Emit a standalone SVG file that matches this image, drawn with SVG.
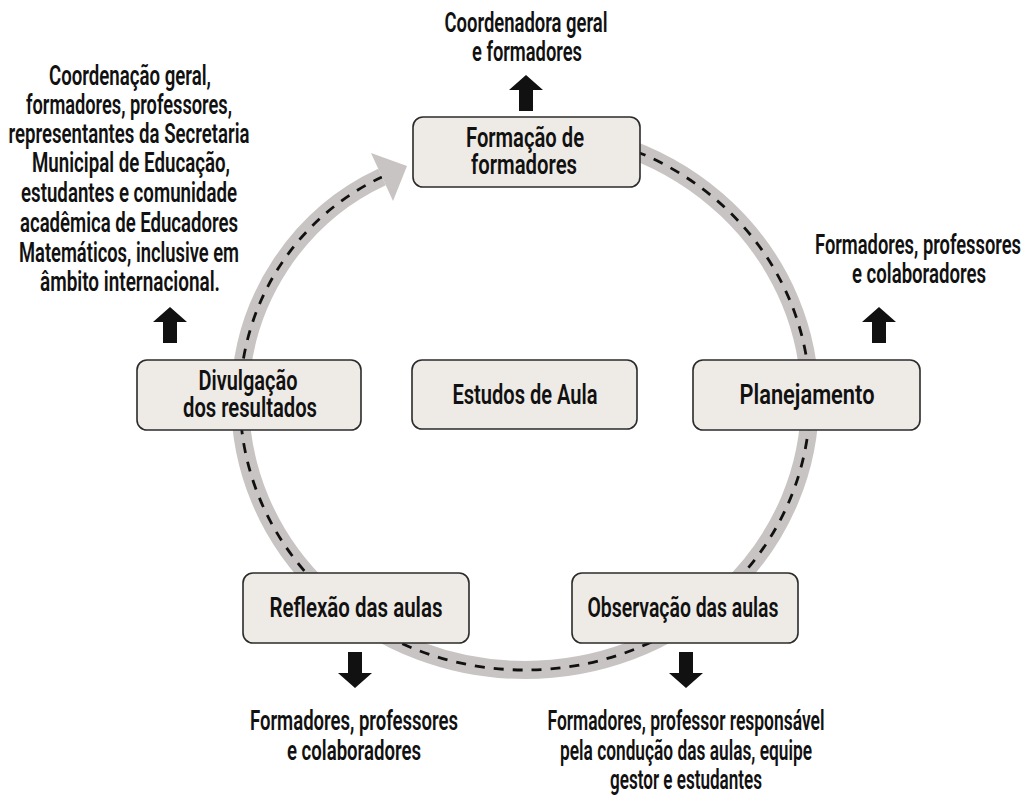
<svg xmlns="http://www.w3.org/2000/svg" width="1027" height="796" viewBox="0 0 1027 796">
<style>
.t{font-family:Roboto,"Liberation Sans",sans-serif;font-size:27px;font-weight:600;fill:#111;text-anchor:middle}
.box{fill:#eeeae5;stroke:#2b2b2b;stroke-width:1.6}
.ring{fill:none;stroke:#c9c4c4;stroke-width:18}
.dash{fill:none;stroke:#111;stroke-width:2.8;stroke-dasharray:10 9}
.arr{fill:#111}
</style>
<defs>
<path id="up" d="M0,0 L17,15 L7,15 L7,36 L-7,36 L-7,15 L-17,15 Z"/>
</defs>
<rect width="1027" height="796" fill="#fff"/>
<g id="connectors">
<path class="ring" d="M525,130 A285 270 0 0 1 525 670 A285 270 0 0 1 240 400 C240,300 300,215 382,177"/>
<path class="dash" d="M525,130 A285 270 0 0 1 525 670 A285 270 0 0 1 240 400 C240,300 300,215 382,177"/>
<polygon points="371,153 393,201 407,166" fill="#c9c4c4"/>
<use href="#up" class="arr" x="526" y="75"/>
<use href="#up" class="arr" x="170" y="307"/>
<use href="#up" class="arr" x="879" y="307"/>
<use href="#up" class="arr" transform="translate(355,688) scale(1,-1)"/>
<use href="#up" class="arr" transform="translate(686,688) scale(1,-1)"/>
</g>
<g id="formacao">
<rect class="box" x="413" y="117" width="227" height="70" rx="10"/>
<text class="t" x="525" y="147" textLength="118" lengthAdjust="spacingAndGlyphs">Formação de</text>
<text class="t" x="524" y="174" textLength="106" lengthAdjust="spacingAndGlyphs">formadores</text>
</g>
<g id="divulgacao">
<rect class="box" x="137" y="360" width="224" height="70" rx="10"/>
<text class="t" x="248" y="390" textLength="99" lengthAdjust="spacingAndGlyphs">Divulgação</text>
<text class="t" x="250" y="417" textLength="134" lengthAdjust="spacingAndGlyphs">dos resultados</text>
</g>
<g id="estudos">
<rect class="box" x="412" y="360" width="225" height="69" rx="10"/>
<text class="t" x="525" y="404" textLength="145" lengthAdjust="spacingAndGlyphs">Estudos de Aula</text>
</g>
<g id="planejamento">
<rect class="box" x="693" y="360" width="227" height="70" rx="10"/>
<text class="t" x="807" y="404" textLength="135" lengthAdjust="spacingAndGlyphs">Planejamento</text>
</g>
<g id="reflexao">
<rect class="box" x="243" y="573" width="226" height="70" rx="10"/>
<text class="t" x="356" y="617" textLength="173" lengthAdjust="spacingAndGlyphs">Reflexão das aulas</text>
</g>
<g id="observacao">
<rect class="box" x="572" y="573" width="226" height="70" rx="10"/>
<text class="t" x="683" y="617" textLength="191" lengthAdjust="spacingAndGlyphs">Observação das aulas</text>
</g>
<g id="label-top">
<text class="t" x="526" y="32" textLength="163" lengthAdjust="spacingAndGlyphs">Coordenadora geral</text>
<text class="t" x="527" y="61" textLength="110" lengthAdjust="spacingAndGlyphs">e formadores</text>
</g>
<g id="label-left">
<text class="t" x="130" y="85" textLength="162" lengthAdjust="spacingAndGlyphs">Coordenação geral,</text>
<text class="t" x="129" y="114" textLength="206" lengthAdjust="spacingAndGlyphs">formadores, professores,</text>
<text class="t" x="129" y="143" textLength="241" lengthAdjust="spacingAndGlyphs">representantes da Secretaria</text>
<text class="t" x="131" y="172" textLength="198" lengthAdjust="spacingAndGlyphs">Municipal de Educação,</text>
<text class="t" x="129" y="202" textLength="216" lengthAdjust="spacingAndGlyphs">estudantes e comunidade</text>
<text class="t" x="129" y="232" textLength="218" lengthAdjust="spacingAndGlyphs">acadêmica de Educadores</text>
<text class="t" x="129" y="262" textLength="220" lengthAdjust="spacingAndGlyphs">Matemáticos, inclusive em</text>
<text class="t" x="130" y="291" textLength="180" lengthAdjust="spacingAndGlyphs">âmbito internacional.</text>
</g>
<g id="label-right">
<text class="t" x="918" y="254" textLength="206" lengthAdjust="spacingAndGlyphs">Formadores, professores</text>
<text class="t" x="919" y="283" textLength="134" lengthAdjust="spacingAndGlyphs">e colaboradores</text>
</g>
<g id="label-bottom-left">
<text class="t" x="354" y="730" textLength="208" lengthAdjust="spacingAndGlyphs">Formadores, professores</text>
<text class="t" x="354" y="760" textLength="134" lengthAdjust="spacingAndGlyphs">e colaboradores</text>
</g>
<g id="label-bottom-right">
<text class="t" x="686" y="730" textLength="277" lengthAdjust="spacingAndGlyphs">Formadores, professor responsável</text>
<text class="t" x="686" y="760" textLength="252" lengthAdjust="spacingAndGlyphs">pela condução das aulas, equipe</text>
<text class="t" x="686" y="789" textLength="152" lengthAdjust="spacingAndGlyphs">gestor e estudantes</text>
</g>
</svg>
